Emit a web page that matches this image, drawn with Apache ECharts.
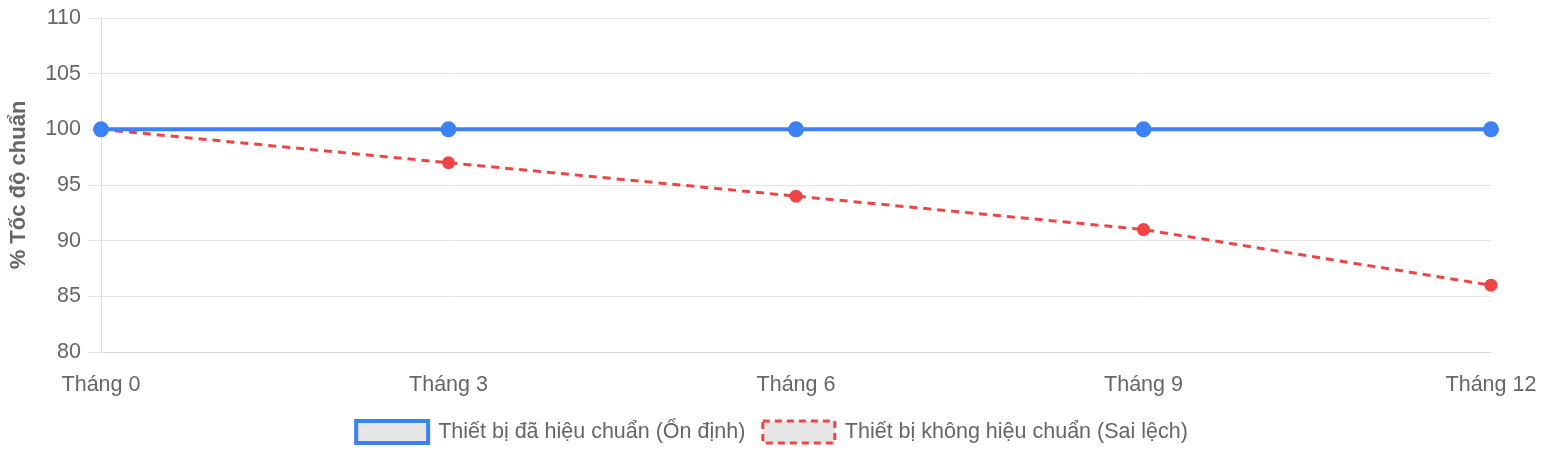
<!DOCTYPE html>
<html><head><meta charset="utf-8">
<script src="https://cdn.jsdelivr.net/npm/echarts@6/dist/echarts.min.js"></script>
<style>html,body{margin:0;padding:0;background:#fff}#c{width:1542px;height:460px}</style>
</head><body><div id="c"></div>
<script>
const categories = ['Tháng 0', 'Tháng 3', 'Tháng 6', 'Tháng 9', 'Tháng 12'];
const calibrated = [100, 100, 100, 100, 100];
const uncalibrated = [100, 97, 94, 91, 86];
const seriesNames = ['Thiết bị đã hiệu chuẩn (Ổn định)', 'Thiết bị không hiệu chuẩn (Sai lệch)'];
const yAxisTitle = '% Tốc độ chuẩn';

const FONT = '"Liberation Sans", Arial, Helvetica, sans-serif';
const BLUE = '#3b82f6', RED = '#ef4444';
const chart = echarts.init(document.getElementById('c'));
chart.setOption({
  animation: false,
  textStyle: { fontFamily: FONT },
  grid: { left: 101, right: 51, top: 18, bottom: 108, containLabel: false, outerBoundsMode: 'none' },
  legend: {
    bottom: 10, left: 'center',
    itemWidth: 72, itemHeight: 22, itemGap: 16,
    textStyle: { fontFamily: FONT, fontSize: 21.5, color: '#666', padding: [0, 0, 0, 5] },
    data: [
      { name: seriesNames[0], icon: 'rect', itemStyle: { color: '#e6e6e6', borderColor: BLUE, borderWidth: 4 } },
      { name: seriesNames[1], icon: 'rect', itemStyle: { color: '#e6e6e6', borderColor: RED, borderWidth: 3, borderType: [7, 5] } }
    ]
  },
  xAxis: {
    type: 'category', data: categories, boundaryGap: false,
    axisLine: { show: true, lineStyle: { color: '#dcdcdc', width: 1 } },
    axisTick: { show: false },
    splitLine: { show: false },
    axisLabel: { color: '#666', fontSize: 21.5, fontFamily: FONT, margin: 22 }
  },
  yAxis: {
    type: 'value', min: 80, max: 110, interval: 5,
    name: yAxisTitle, nameLocation: 'middle', nameGap: 71, nameRotate: 90,
    nameTextStyle: { color: '#666', fontSize: 22, fontWeight: 'bold', fontFamily: FONT },
    axisLine: { show: true, lineStyle: { color: '#dcdcdc', width: 1 } },
    axisTick: { show: true, length: 13, lineStyle: { color: '#e5e5e5' } },
    splitLine: { show: true, lineStyle: { color: '#e5e5e5', width: 1 } },
    axisLabel: { color: '#666', fontSize: 21.5, fontFamily: FONT, margin: 20 }
  },
  series: [
    {
      name: seriesNames[1], type: 'line', data: uncalibrated, z: 2,
      symbol: 'circle', symbolSize: 13,
      lineStyle: { color: RED, width: 3, type: [8, 6] },
      itemStyle: { color: RED }
    },
    {
      name: seriesNames[0], type: 'line', data: calibrated, z: 3,
      symbol: 'circle', symbolSize: 16,
      lineStyle: { color: BLUE, width: 4 },
      itemStyle: { color: BLUE }
    }
  ]
});
</script></body></html>
